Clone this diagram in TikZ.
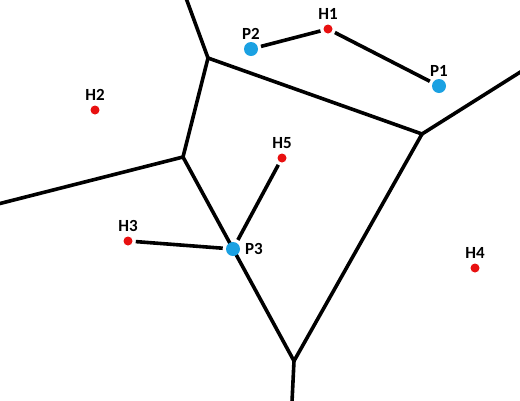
\documentclass[tikz,border=0pt]{standalone}
\usepackage{fontspec}
\setmainfont{Carlito}
\definecolor{hred}{RGB}{232,16,16}
\definecolor{pblue}{RGB}{27,161,226}
\begin{document}
\begin{tikzpicture}[x=1pt,y=-1pt,line width=3.6pt,
  lbl/.style={font=\fontsize{17}{17}\selectfont\bfseries, inner sep=1.5pt},
  hdot/.style={circle, inner sep=0pt, minimum size=9pt, fill=hred},
  pdot/.style={circle, inner sep=0pt, minimum size=14pt, fill=pblue},
  link/.style={shorten <=1.5pt, shorten >=1.5pt}]
\useasboundingbox (0,0) rectangle (520,400);
\coordinate (v1) at (208,58);
\coordinate (v2) at (183,157);
\coordinate (v3) at (422,134);
\coordinate (v4) at (294,361);
\coordinate (e1) at (186,-2);
\coordinate (e2) at (-2,204);
\coordinate (e3) at (522,71);
\coordinate (e4) at (292,402);
\draw[](v1) -- (e1);
\draw[](v2) -- (e2);
\draw[](v3) -- (e3);
\draw[](v4) -- (e4);
\draw[](v1) -- (v2);
\draw[](v1) -- (v3);
\draw[](v2) -- (v4);
\draw[](v3) -- (v4);
\node[hdot, label={[lbl]above:H1}] (h1) at (328,29){};
\node[hdot, label={[lbl]above:H2}] (h2) at (95,110){};
\node[hdot, label={[lbl]above:H3}] (h3) at (128,241){};
\node[hdot, label={[lbl]above:H4}] (h4) at (475,268){};
\node[hdot, label={[lbl]above:H5}] (h5) at (282,158){};
\node[pdot, label={[lbl,label distance=-3pt]above:P1}] (p1) at (439,86){};
\node[pdot, label={[lbl,label distance=-3pt]above:P2}] (p2) at (251,49){};
\node[pdot, label={[lbl]right:P3}] (p3) at (233,249){};
\draw[link](p2) -- (h1);
\draw[link](h1) -- (p1);
\draw[link](h5) -- (p3);
\draw[link](h3) -- (p3);
\end{tikzpicture}
\end{document}
